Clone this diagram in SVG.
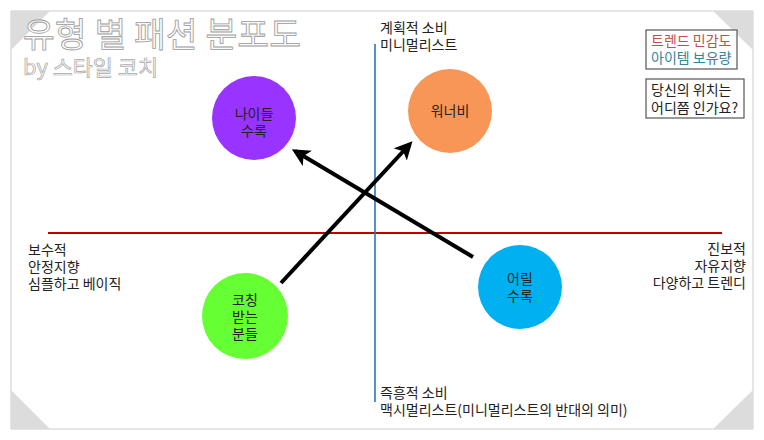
<svg xmlns="http://www.w3.org/2000/svg" width="764" height="440" viewBox="0 0 764 440">
<style>
.t{font-family:"Noto Sans CJK KR","Noto Sans",sans-serif;font-size:14px;fill:#222}
.c{text-anchor:middle;font-size:14px}
.title{font-family:"Noto Sans CJK KR",sans-serif;fill:#fafafa;stroke:#9a9a9a;stroke-width:0.8}
.box{fill:#fff;stroke:#555;stroke-width:1.2}
.corner{fill:#dcdcdc}
.arrow{stroke:#000;stroke-width:4;fill:none;marker-end:url(#ah)}
</style>
<defs>
<marker id="ah" viewBox="0 0 10 10" refX="8" refY="5" markerWidth="4.5" markerHeight="4.5" orient="auto" markerUnits="strokeWidth">
<path d="M0,0 L10,5 L0,10 L2.5,5 Z" fill="#000"/>
</marker>
</defs>
<rect x="0" y="0" width="764" height="440" fill="#fff"/>
<g id="frame">
<rect x="11" y="11" width="742" height="418" fill="#fff" stroke="#d6d6d6" stroke-width="1.2"/>
<polygon class="corner" points="11,11 50,11 11,50"/>
<polygon class="corner" points="713,11 753,11 753,50"/>
<polygon class="corner" points="753,390 753,429 713,429"/>
<polygon class="corner" points="11,390 11,429 50,429"/>
</g>
<g id="title">
<text class="title" x="23" y="47" font-size="34" textLength="278" lengthAdjust="spacingAndGlyphs">유형 별 패션 분포도</text>
<text class="title" x="23" y="75" font-size="21" textLength="135" lengthAdjust="spacingAndGlyphs" style="stroke:#a8a8a8;stroke-width:0.7">by 스타일 코치</text>
</g>
<g id="axes">
<line x1="48" y1="233" x2="722" y2="233" stroke="#c00000" stroke-width="1.8"/>
<line x1="375" y1="44" x2="375" y2="402" stroke="#2e75b6" stroke-width="1.6"/>
</g>
<g id="axis-labels">
<text class="t" x="380" y="33">계획적 소비</text>
<text class="t" x="380" y="50">미니멀리스트</text>
<text class="t" x="380" y="398">즉흥적 소비</text>
<text class="t" x="380" y="415">맥시멀리스트(미니멀리스트의 반대의 의미)</text>
<text class="t" x="28" y="255">보수적</text>
<text class="t" x="28" y="272">안정지향</text>
<text class="t" x="28" y="289">심플하고 베이직</text>
<text class="t" x="746" y="254" text-anchor="end">진보적</text>
<text class="t" x="746" y="271" text-anchor="end">자유지향</text>
<text class="t" x="746" y="288" text-anchor="end">다양하고 트렌디</text>
</g>
<g id="legend">
<rect class="box" x="646" y="30" width="91" height="39"/>
<text class="t" x="651" y="46" style="fill:#c0504d">트렌드 민감도</text>
<text class="t" x="651" y="63" style="fill:#31859c">아이템 보유량</text>
</g>
<g id="question">
<rect class="box" x="646" y="79" width="98" height="39"/>
<text class="t" x="651" y="95">당신의 위치는</text>
<text class="t" x="651" y="113">어디쯤 인가요?</text>
</g>
<g id="node-older">
<circle cx="254" cy="118" r="42" fill="#9933ff"/>
<text class="t c" x="254" y="119">나이들</text>
<text class="t c" x="254" y="136">수록</text>
</g>
<g id="node-wannabe">
<circle cx="450" cy="111" r="42" fill="#f79656"/>
<text class="t c" x="450" y="116">워너비</text>
</g>
<g id="node-coached">
<circle cx="245" cy="316" r="43" fill="#66ff33"/>
<text class="t c" x="245" y="305">코칭</text>
<text class="t c" x="245" y="322">받는</text>
<text class="t c" x="245" y="339">분들</text>
</g>
<g id="node-younger">
<circle cx="520" cy="287" r="42" fill="#00b0f0"/>
<text class="t c" x="520" y="284">어릴</text>
<text class="t c" x="520" y="301">수록</text>
</g>
<g id="connectors">
<line class="arrow" x1="281" y1="283" x2="410" y2="144"/>
<line class="arrow" x1="473" y1="257" x2="295" y2="151"/>
</g>
</svg>
